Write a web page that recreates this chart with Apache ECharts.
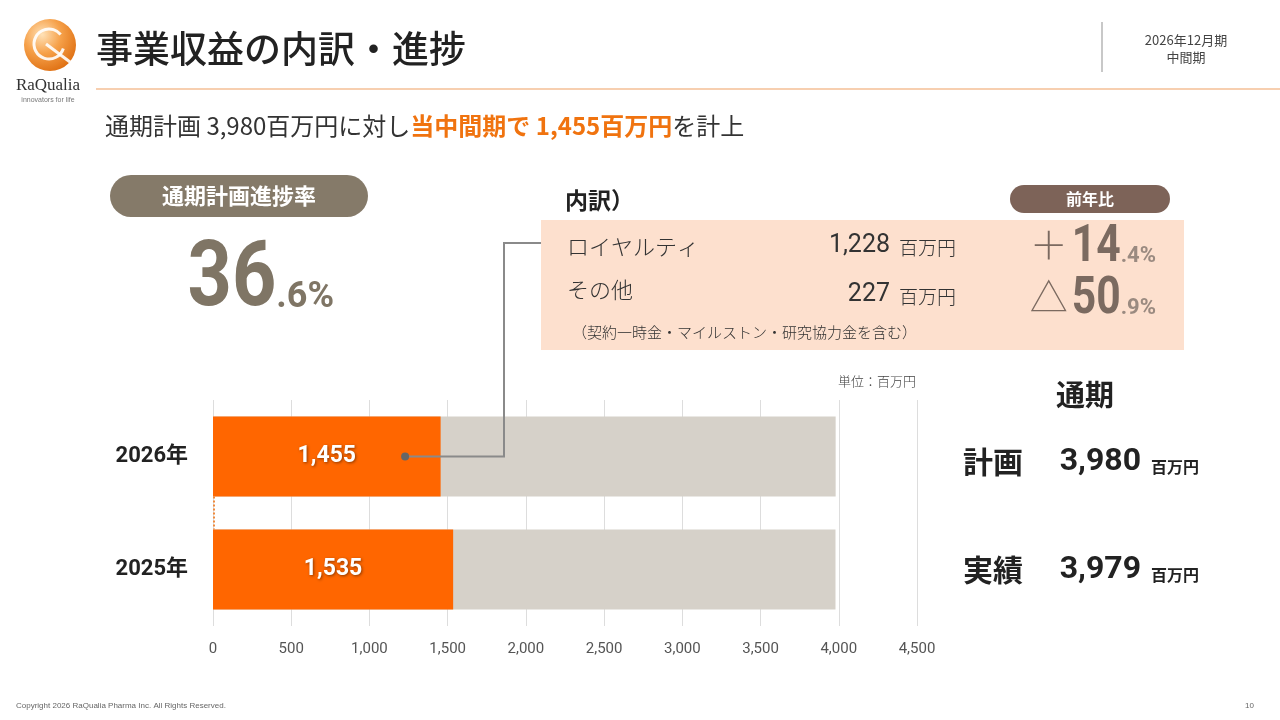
<!DOCTYPE html>
<html>
<head>
<meta charset="utf-8">
<script src="https://cdn.jsdelivr.net/npm/echarts@6/dist/echarts.min.js"></script>
<style>
  html, body { margin: 0; padding: 0; background: #fff; }
  #main { width: 1280px; height: 720px; }
</style>
</head>
<body>
<div id="main"></div>
<script>
(function(){
    // ---- data ----
    var years = ['2026年', '2025年'];
    var actual = [1455, 1535];       // 中間期実績
    var fullYear = [3980, 3979];     // 通期 計画 / 実績
    var xTicks = [0, 500, 1000, 1500, 2000, 2500, 3000, 3500, 4000, 4500];
    var royalty = 1228;
    var others = 227;
    var progressRate = 36.6;
    var yoyRoyalty = '+14.4';
    var yoyOthers = '△50.9';

    var JP = '"Noto Sans CJK JP", "Noto Sans", sans-serif';
    var NUM = 'Roboto, "Noto Sans CJK JP", sans-serif';
    var ORANGE = '#FF6600';
    var BROWN = '#857A69';

    var dom = document.getElementById('main');
    var chart = echarts.init(dom);

    function fmt(v){ return v.toLocaleString('en-US'); }
    function splitNum(s){
        var p = s.split('.');
        return { i: p[0], d: '.' + p[1] };
    }

    var rate = splitNum(progressRate.toFixed(1));
    var yr = splitNum(yoyRoyalty);
    var yo = splitNum(yoyOthers);

    function measure(text, font){
        var c = document.createElement('canvas').getContext('2d');
        c.font = font;
        return c.measureText(text).width;
    }

    // big number + small decimals on one baseline (number squeezed a bit)
    function numGroup(sign, num, right, base, big, small, color, color2, narrow){
        var fSmall = 'bold ' + small + 'px ' + NUM;
        var fBig = 'bold ' + big + 'px ' + NUM;
        var wSmall = measure(num.d + '%', fSmall);
        var wBig = measure(num.i, fBig) * narrow;
        var els = [
            { type: 'text', z: 10, style: { x: right, y: base, text: num.d + '%', align: 'right',
              verticalAlign: 'bottom', font: fSmall, fill: color2 }, position: [0, small * 0.22] },
            { type: 'text', z: 10, x: right - wSmall, y: base + big * 0.22, scaleX: narrow, originX: 0, originY: 0,
              style: { x: 0, y: 0, text: num.i, align: 'right', verticalAlign: 'bottom', font: fBig, fill: color } }
        ];
        if (sign) {
            els.push({ type: 'text', z: 10, style: { x: right - wSmall - wBig - 4, y: base - big * 0.36, text: sign,
                align: 'right', verticalAlign: 'middle', font: '200 38px ' + JP, fill: color } });
        }
        return els;
    }

    var graphics = [
        // logo
        { type: 'circle', shape: { cx: 50, cy: 45, r: 26 },
          style: { fill: new echarts.graphic.RadialGradient(0.35, 0.3, 0.8, [
              { offset: 0, color: '#FFE2B8' }, { offset: 0.45, color: '#F6A14A' }, { offset: 1, color: '#DC6A0C' }]) } },
        { type: 'arc', shape: { cx: 49, cy: 44, r: 15, startAngle: 0.3, endAngle: 5.6 },
          style: { stroke: '#fff', lineWidth: 3, fill: null, opacity: 0.9 } },
        { type: 'line', shape: { x1: 46, y1: 44, x2: 70, y2: 62 }, style: { stroke: '#fff', lineWidth: 3, opacity: 0.9 } },
        { type: 'text', style: { x: 48, y: 86, text: 'RaQualia', align: 'center', verticalAlign: 'middle',
          font: '17px "Liberation Serif", "DejaVu Serif", serif', fill: '#333' } },
        { type: 'text', style: { x: 48, y: 100, text: 'innovators for life', align: 'center', verticalAlign: 'middle',
          font: '7px "Liberation Sans", sans-serif', fill: '#777' } },

        // title + header
        { type: 'text', style: { x: 96, y: 49, text: '事業収益の内訳・進捗', verticalAlign: 'middle',
          font: '500 37px ' + JP, fill: '#222' } },
        { type: 'line', shape: { x1: 96, y1: 89, x2: 1280, y2: 89 }, style: { stroke: '#F7CFB0', lineWidth: 2 } },
        { type: 'line', shape: { x1: 1102, y1: 22, x2: 1102, y2: 72 }, style: { stroke: '#C8C8C8', lineWidth: 2 } },
        { type: 'text', style: { x: 1186, y: 40, text: '2026年12月期', align: 'center', verticalAlign: 'middle',
          font: '13px ' + JP, fill: '#444' } },
        { type: 'text', style: { x: 1186, y: 57, text: '中間期', align: 'center', verticalAlign: 'middle',
          font: '13px ' + JP, fill: '#444' } },

        // subtitle
        { type: 'text', style: { x: 105, y: 126, verticalAlign: 'middle',
          text: '{n|通期計画 ' + fmt(fullYear[0]) + '百万円に対し}{o|当中間期で ' + fmt(actual[0]) + '百万円}{n|を計上}',
          rich: {
              n: { fontSize: 24, fontFamily: JP, fontWeight: 'normal', fill: '#333' },
              o: { fontSize: 24, fontFamily: JP, fontWeight: 'bold', fill: '#F0730F' }
          } } },

        // progress pill
        { type: 'rect', shape: { x: 110, y: 175, width: 258, height: 42, r: 21 }, style: { fill: BROWN } },
        { type: 'text', style: { x: 239, y: 196, text: '通期計画進捗率', align: 'center', verticalAlign: 'middle',
          font: 'bold 22px ' + JP, fill: '#fff' } },

        // breakdown
        { type: 'text', style: { x: 565, y: 200, text: '内訳）', verticalAlign: 'middle',
          font: 'bold 23px ' + JP, fill: '#222' } },
        { type: 'rect', shape: { x: 1010, y: 185, width: 160, height: 28, r: 14 }, style: { fill: '#7D6358' } },
        { type: 'text', style: { x: 1090, y: 199, text: '前年比', align: 'center', verticalAlign: 'middle',
          font: 'bold 16px ' + JP, fill: '#fff' } },
        { type: 'rect', shape: { x: 541, y: 220, width: 643, height: 130 }, style: { fill: '#FDE0CE' } },
        { type: 'text', style: { x: 567, y: 247, text: 'ロイヤルティ', verticalAlign: 'middle',
          font: '300 22px ' + JP, fill: '#333' } },
        { type: 'text', style: { x: 567, y: 290, text: 'その他', verticalAlign: 'middle',
          font: '300 22px ' + JP, fill: '#333' } },
        { type: 'text', style: { x: 890, y: 246, text: fmt(royalty), align: 'right', verticalAlign: 'middle',
          font: '25px ' + NUM, fill: '#333' } },
        { type: 'text', style: { x: 890, y: 295, text: fmt(others), align: 'right', verticalAlign: 'middle',
          font: '25px ' + NUM, fill: '#333' } },
        { type: 'text', style: { x: 899, y: 248, text: '百万円', verticalAlign: 'middle',
          font: '300 19px ' + JP, fill: '#333' } },
        { type: 'text', style: { x: 899, y: 297, text: '百万円', verticalAlign: 'middle',
          font: '300 19px ' + JP, fill: '#333' } },
        { type: 'text', style: { x: 572, y: 332, text: '（契約一時金・マイルストン・研究協力金を含む）', verticalAlign: 'middle',
          font: '300 15px ' + JP, fill: '#333' } },

        // chart annotations
        { type: 'text', style: { x: 916, y: 381, text: '単位：百万円', align: 'right', verticalAlign: 'middle',
          font: '300 13px ' + JP, fill: '#444' } },
        { type: 'text', style: { x: 1085, y: 395, text: '通期', align: 'center', verticalAlign: 'middle',
          font: 'bold 29px ' + JP, fill: '#222' } },
        { type: 'text', style: { x: 963, y: 462, text: '計画', verticalAlign: 'middle', font: 'bold 30px ' + JP, fill: '#222' } },
        { type: 'text', style: { x: 963, y: 570, text: '実績', verticalAlign: 'middle', font: 'bold 30px ' + JP, fill: '#222' } },
        { type: 'text', style: { x: 1141, y: 462, text: fmt(fullYear[0]), align: 'right', verticalAlign: 'middle',
          font: 'bold 32px Roboto, sans-serif', fill: '#222' } },
        { type: 'text', style: { x: 1141, y: 570, text: fmt(fullYear[1]), align: 'right', verticalAlign: 'middle',
          font: 'bold 32px Roboto, sans-serif', fill: '#222' } },
        { type: 'text', style: { x: 1151, y: 467, text: '百万円', verticalAlign: 'middle', font: 'bold 16px ' + JP, fill: '#222' } },
        { type: 'text', style: { x: 1151, y: 575, text: '百万円', verticalAlign: 'middle', font: 'bold 16px ' + JP, fill: '#222' } },

        // footer
        { type: 'text', style: { x: 16, y: 706, text: 'Copyright 2026 RaQualia Pharma Inc. All Rights Reserved.', verticalAlign: 'middle',
          font: '8px "Liberation Sans", sans-serif', fill: '#666' } },
        { type: 'text', style: { x: 1254, y: 706, text: '10', align: 'right', verticalAlign: 'middle',
          font: '8px "Liberation Sans", sans-serif', fill: '#666' } }
    ];

    graphics = graphics
        .concat(numGroup('', rate, 334, 308, 90, 36, '#7F7565', '#7F7565', 0.86))
        .concat(numGroup('＋', { i: yr.i.replace('+', ''), d: yr.d }, 1156, 263, 52, 22, '#7B6A60', '#9A8A80', 0.82))
        .concat(numGroup('△', { i: yo.i.replace('△', ''), d: yo.d }, 1156, 315, 52, 22, '#7B6A60', '#9A8A80', 0.82));

    var BAR_W = 80;

    option = {
        animation: false,
        backgroundColor: '#fff',
        grid: { left: 213, right: 363, top: 400, bottom: 94 },
        xAxis: {
            type: 'value', min: 0, max: xTicks[xTicks.length - 1], interval: 500,
            axisLine: { show: false }, axisTick: { show: false },
            splitLine: { show: true, lineStyle: { color: '#DDDDDD', width: 1 } },
            axisLabel: { color: '#555', fontSize: 15, fontFamily: NUM, margin: 16,
                formatter: function(v){ return fmt(v); } }
        },
        yAxis: {
            type: 'category', data: years, inverse: true,
            axisLine: { show: false }, axisTick: { show: false },
            axisLabel: { color: '#222', fontSize: 22, fontWeight: 'bold', fontFamily: NUM, margin: 25 }
        },
        series: [
            {
                name: '通期', type: 'bar', data: fullYear, barWidth: BAR_W, barGap: '-100%',
                itemStyle: { color: '#D6D1C9' }, silent: true, z: 2
            },
            {
                name: '中間期', type: 'bar', data: actual, barWidth: BAR_W,
                itemStyle: { color: ORANGE }, z: 3,
                label: {
                    show: true, position: 'inside', color: '#fff', fontSize: 23, fontWeight: 'bold',
                    fontFamily: NUM, textShadowColor: 'rgba(0,0,0,0.45)', textShadowBlur: 3,
                    textShadowOffsetX: 1, textShadowOffsetY: 1,
                    formatter: function(p){ return fmt(p.value); }
                }
            }
        ],
        graphic: graphics
    };
    chart.setOption(option);

    // leader line + connector, positioned through the chart's scales
    var dot = chart.convertToPixel({ gridIndex: 0 }, [royalty, years[0]]);
    var zero0 = chart.convertToPixel({ gridIndex: 0 }, [0, years[0]]);
    var zero1 = chart.convertToPixel({ gridIndex: 0 }, [0, years[1]]);
    var elbowX = 504, boxY = 243, boxX = 541;
    chart.setOption({
        graphic: graphics.concat([
            { type: 'polyline', z: 100,
              shape: { points: [[dot[0], dot[1]], [elbowX, dot[1]], [elbowX, boxY], [boxX, boxY]] },
              style: { stroke: '#8A8A8A', lineWidth: 2, fill: null } },
            { type: 'circle', z: 101, shape: { cx: dot[0], cy: dot[1], r: 4 }, style: { fill: '#666' } },
            { type: 'line', z: 100,
              shape: { x1: zero0[0] + 1, y1: zero0[1] + BAR_W / 2, x2: zero1[0] + 1, y2: zero1[1] - BAR_W / 2 },
              style: { stroke: '#F08A3C', lineWidth: 2, lineDash: [2, 2] } }
        ])
    });
})();
</script>
</body>
</html>
